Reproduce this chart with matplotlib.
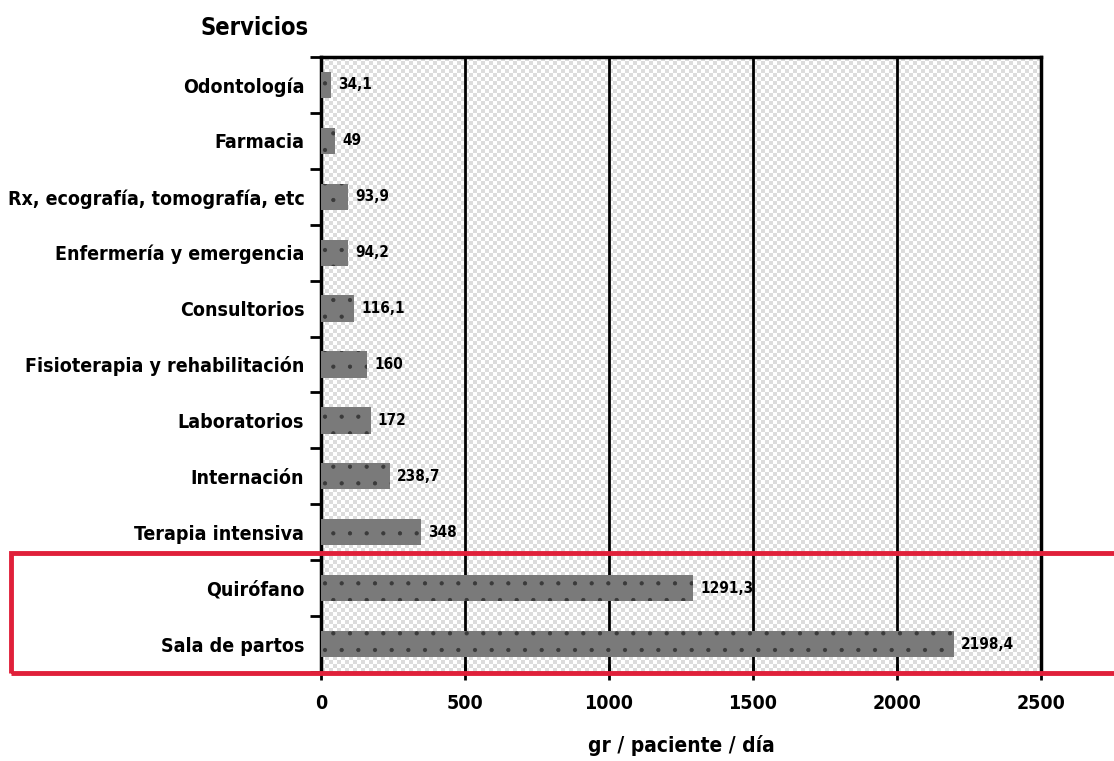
import matplotlib
matplotlib.use("Agg")
import matplotlib.pyplot as plt
import numpy as np
from matplotlib.patches import Rectangle

# data (top to bottom as in the chart)
servicios = ["Odontología", "Farmacia", "Rx, ecografía, tomografía, etc",
             "Enfermería y emergencia", "Consultorios",
             "Fisioterapia y rehabilitación", "Laboratorios", "Internación",
             "Terapia intensiva", "Quirófano", "Sala de partos"]
valores = [34.1, 49, 93.9, 94.2, 116.1, 160, 172, 238.7, 348, 1291.3, 2198.4]
etiquetas = ["34,1", "49", "93,9", "94,2", "116,1", "160", "172", "238,7",
             "348", "1291,3", "2198,4"]
xticks = [0, 500, 1000, 1500, 2000, 2500]

plt.rcParams['font.family'] = ['DejaVu Sans']
plt.rcParams['font.stretch'] = 'condensed'

fig = plt.figure(figsize=(11.14, 7.61), dpi=100)
ax = fig.add_axes([321/1114, 1 - 672/761, (1041-321)/1114, (672-57)/761])

# checkered background of the plot area
nx, ny = 180, 154
cheq = (np.add.outer(np.arange(ny), np.arange(nx)) % 2).astype(float)
ax.imshow(cheq, cmap=matplotlib.colors.ListedColormap(["white", "#dcdcdc"]),
          extent=[0, 1, 0, 1], transform=ax.transAxes, aspect="auto",
          interpolation="nearest", zorder=0)

y = np.arange(len(servicios))
plt.rcParams['hatch.color'] = '#3a3a3a'
plt.rcParams['hatch.linewidth'] = 0.6
ax.barh(y, valores, height=0.47, color="#7a7a7a", hatch=".",
        linewidth=0, zorder=3)
for yi, v, t in zip(y, valores, etiquetas):
    ax.text(v + 25, yi, t, va="center", ha="left", fontsize=11,
            fontweight="bold", zorder=4)

ax.set_xlim(0, 2500)
ax.set_ylim(len(servicios) - 0.5, -0.5)
ax.set_xticks(xticks)
ax.set_xticklabels([str(t) for t in xticks], fontsize=14, fontweight="bold")
for t in xticks[1:]:
    ax.axvline(t, color="black", linewidth=2, zorder=2)

ax.set_yticks(y)
ax.set_yticklabels(servicios, fontsize=14, fontweight="bold")
ax.tick_params(axis="y", length=0, pad=12)
ax.set_yticks(np.arange(len(servicios) + 1) - 0.5, minor=True)
ax.tick_params(axis="y", which="minor", length=8, width=2, direction="out")
ax.tick_params(axis="x", length=12, width=2, direction="inout", pad=10)

for s in ["left", "top", "right"]:
    ax.spines[s].set_linewidth(2.5)
ax.spines["bottom"].set_linewidth(1)

fig.text(200/1114, 1 - 28/761, "Servicios", fontsize=17, fontweight="bold",
         va="center", ha="left")
fig.text(681/1114, 1 - 745/761, "gr / paciente / día", fontsize=15,
         fontweight="bold", va="center", ha="center")

# red highlight box around the last two services
fig.patches.append(Rectangle((11/1114, 1 - 673/761), 1120/1114, 120/761,
                             transform=fig.transFigure, fill=False,
                             edgecolor="#e0203a", linewidth=3.5, zorder=10))

plt.savefig("out.png", dpi=100)
plt.close()
